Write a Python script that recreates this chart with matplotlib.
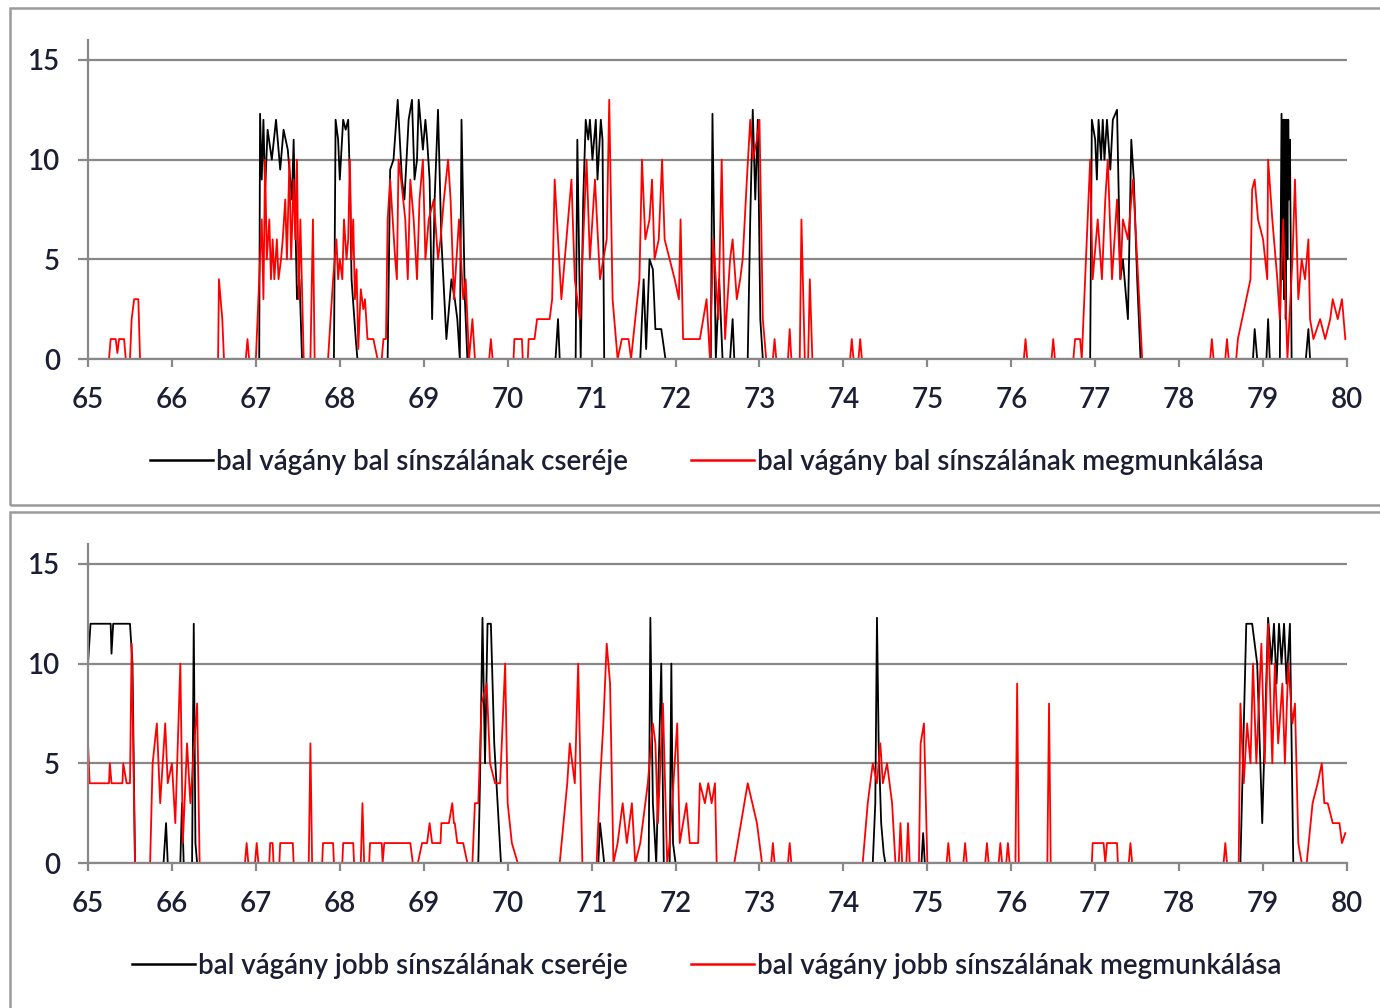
import matplotlib
matplotlib.use('Agg')
import matplotlib.pyplot as plt
from matplotlib.patches import Rectangle

plt.rcParams['font.family'] = ['Lato', 'DejaVu Sans']

# km szelvény (x) and value (y)
top_black = [
    (65.0, 0), (67.04, 0), (67.05, 12.3), (67.07, 9), (67.09, 12), (67.11, 8.5),
    (67.14, 11.5), (67.19, 10), (67.24, 12), (67.29, 9.5), (67.33, 11.5),
    (67.38, 10.5), (67.43, 8), (67.45, 11), (67.49, 3), (67.52, 4), (67.55, 0),
    (67.93, 0), (67.95, 12), (67.98, 11), (68.0, 9), (68.04, 12), (68.07, 11.5),
    (68.1, 12), (68.12, 9), (68.14, 4), (68.19, 1), (68.21, 0), (68.57, 0),
    (68.6, 9.5), (68.64, 10), (68.69, 13), (68.74, 9), (68.77, 8), (68.82, 12),
    (68.86, 13), (68.89, 9), (68.92, 10), (68.94, 13), (68.99, 10.5), (69.02, 12),
    (69.04, 11), (69.07, 9), (69.1, 2), (69.13, 8), (69.17, 12.5), (69.21, 6),
    (69.27, 1), (69.31, 3), (69.33, 4), (69.37, 3), (69.4, 2), (69.43, 0),
    (69.45, 12), (69.49, 3), (69.52, 0), (70.57, 0), (70.6, 2), (70.62, 0),
    (70.81, 0), (70.83, 11), (70.87, 0), (70.9, 8), (70.93, 12), (70.96, 11),
    (70.98, 12), (71.01, 10), (71.05, 12), (71.07, 9), (71.11, 12), (71.13, 11),
    (71.15, 0), (71.58, 0), (71.62, 4), (71.65, 0.5), (71.69, 5), (71.73, 4.5),
    (71.76, 1.5), (71.83, 1.5), (71.88, 0), (72.42, 0), (72.44, 12.3),
    (72.48, 0), (72.52, 4), (72.56, 0), (72.65, 0), (72.68, 2), (72.7, 0),
    (72.86, 0), (72.89, 7), (72.92, 12.5), (72.95, 8), (72.98, 12), (73.01, 2),
    (73.04, 0), (76.94, 0), (76.96, 12), (77.0, 11), (77.02, 9), (77.04, 12),
    (77.07, 10), (77.09, 12), (77.11, 10), (77.14, 12), (77.18, 9.5), (77.21, 12),
    (77.26, 12.5), (77.3, 4), (77.33, 5), (77.37, 3), (77.39, 2), (77.43, 11),
    (77.46, 9), (77.5, 4), (77.54, 0), (78.88, 0), (78.9, 1.5), (78.93, 0),
    (79.04, 0), (79.06, 2), (79.08, 0), (79.2, 0), (79.22, 12.3), (79.23, 4),
    (79.24, 12), (79.25, 3), (79.26, 12), (79.27, 2), (79.28, 12), (79.29, 5),
    (79.3, 12), (79.31, 8), (79.32, 11), (79.34, 0), (79.51, 0), (79.54, 1.5),
    (79.56, 0), (80.0, 0),
]

top_red = [
    (65.0, 0), (65.25, 0), (65.27, 1), (65.33, 1), (65.35, 0.3), (65.37, 1),
    (65.43, 1), (65.45, 0), (65.5, 0), (65.52, 2), (65.55, 3), (65.6, 3),
    (65.62, 0), (66.55, 0), (66.56, 4), (66.58, 3), (66.6, 2), (66.62, 0),
    (66.88, 0), (66.9, 1), (66.92, 0), (67.0, 0), (67.05, 5), (67.07, 7),
    (67.09, 3), (67.11, 10), (67.13, 5), (67.16, 7), (67.18, 4), (67.2, 6),
    (67.22, 4), (67.25, 6), (67.27, 4), (67.3, 5), (67.32, 6), (67.35, 8),
    (67.37, 5), (67.4, 10), (67.42, 5), (67.45, 9), (67.47, 6), (67.49, 10),
    (67.51, 3), (67.53, 7), (67.57, 0), (67.65, 0), (67.68, 7), (67.7, 0),
    (67.86, 0), (67.92, 4), (67.96, 6), (67.98, 4), (68.0, 5), (68.03, 4),
    (68.05, 7), (68.08, 5), (68.1, 6), (68.12, 10), (68.14, 5), (68.16, 7),
    (68.18, 3), (68.2, 4.5), (68.22, 0.5), (68.25, 3.5), (68.28, 2.5),
    (68.3, 3), (68.33, 1), (68.4, 1), (68.45, 0), (68.5, 0), (68.52, 1),
    (68.55, 1), (68.57, 7), (68.6, 9), (68.66, 5), (68.68, 4), (68.7, 10),
    (68.73, 9), (68.78, 7), (68.81, 4), (68.84, 9), (68.88, 7), (68.92, 4),
    (68.95, 8), (68.99, 10), (69.02, 5), (69.06, 7), (69.12, 8), (69.17, 5),
    (69.2, 6), (69.24, 8), (69.29, 10), (69.32, 8), (69.36, 3), (69.42, 7),
    (69.47, 3), (69.5, 4), (69.54, 0), (69.58, 2), (69.61, 0), (69.78, 0),
    (69.8, 1), (69.82, 0), (70.07, 0), (70.08, 1), (70.17, 1), (70.18, 0),
    (70.24, 0), (70.25, 1), (70.32, 1), (70.35, 2), (70.5, 2), (70.53, 3),
    (70.56, 9), (70.6, 6), (70.64, 3), (70.68, 5), (70.76, 9), (70.8, 4),
    (70.86, 2), (70.9, 6), (70.94, 10), (70.98, 5), (71.04, 9), (71.1, 4),
    (71.18, 6), (71.21, 13), (71.25, 3), (71.31, 0), (71.36, 1), (71.44, 1),
    (71.47, 0), (71.52, 2), (71.57, 4), (71.6, 10), (71.64, 6), (71.69, 7),
    (71.72, 9), (71.75, 5), (71.8, 6), (71.84, 10), (71.87, 6), (71.93, 5),
    (71.99, 4), (72.04, 3), (72.06, 7), (72.09, 1), (72.29, 1), (72.37, 3),
    (72.41, 0), (72.45, 6), (72.51, 2), (72.55, 10), (72.59, 1), (72.65, 5),
    (72.68, 6), (72.73, 3), (72.77, 4), (72.8, 5), (72.85, 9), (72.89, 12),
    (72.92, 10), (72.97, 11), (73.0, 12), (73.04, 2), (73.08, 0), (73.16, 0),
    (73.18, 1), (73.2, 0), (73.34, 0), (73.36, 1.5), (73.38, 0), (73.48, 0),
    (73.5, 7), (73.54, 0), (73.58, 0), (73.6, 4), (73.63, 0), (74.08, 0),
    (74.1, 1), (74.12, 0), (74.18, 0), (74.2, 1), (74.22, 0), (76.15, 0),
    (76.17, 1), (76.19, 0), (76.48, 0), (76.5, 1), (76.52, 0), (76.74, 0),
    (76.76, 1), (76.82, 1), (76.84, 0), (76.88, 4), (76.94, 10), (76.97, 4),
    (77.03, 7), (77.08, 4), (77.12, 8), (77.15, 10), (77.2, 4), (77.26, 8),
    (77.3, 4), (77.33, 7), (77.39, 6), (77.45, 9), (77.5, 5), (77.56, 0),
    (78.37, 0), (78.39, 1), (78.41, 0), (78.55, 0), (78.57, 1), (78.59, 0),
    (78.68, 0), (78.7, 1), (78.75, 2), (78.85, 4), (78.87, 8.5), (78.9, 9),
    (78.94, 7), (79.0, 6), (79.05, 4), (79.06, 10), (79.11, 7), (79.17, 4),
    (79.2, 2), (79.24, 7), (79.29, 0), (79.35, 5), (79.38, 9), (79.42, 3),
    (79.46, 5), (79.5, 4), (79.54, 6), (79.56, 2), (79.6, 1), (79.68, 2),
    (79.74, 1), (79.8, 2), (79.83, 3), (79.89, 2), (79.94, 3), (79.98, 1),
]

bottom_black = [
    (65.0, 10), (65.03, 12), (65.27, 12), (65.28, 10.5), (65.3, 12), (65.5, 12),
    (65.53, 10), (65.56, 0), (65.9, 0), (65.93, 2), (65.95, 0), (66.1, 0),
    (66.12, 3), (66.14, 0), (66.24, 0), (66.26, 12), (66.28, 1), (66.3, 0),
    (69.65, 0), (69.67, 4), (69.7, 12.3), (69.73, 5), (69.76, 12), (69.8, 12),
    (69.84, 6), (69.88, 3), (69.92, 0), (71.08, 0), (71.1, 2), (71.15, 0),
    (71.68, 0), (71.7, 12.3), (71.73, 3), (71.77, 0), (71.8, 5), (71.83, 10),
    (71.86, 0), (71.93, 0), (71.95, 10), (71.97, 1), (72.0, 0), (74.35, 0),
    (74.38, 3), (74.4, 12.3), (74.42, 6), (74.45, 2), (74.48, 0.5), (74.5, 0),
    (74.93, 0), (74.95, 1.5), (74.97, 0), (78.73, 0), (78.8, 12), (78.87, 12),
    (78.93, 10), (78.99, 2), (79.06, 12.3), (79.1, 10), (79.13, 12), (79.16, 9),
    (79.19, 12), (79.22, 10), (79.25, 12), (79.28, 9), (79.32, 12), (79.36, 0),
    (80.0, 0),
]

bottom_red = [
    (65.0, 6), (65.02, 4), (65.25, 4), (65.26, 5), (65.28, 4), (65.41, 4),
    (65.42, 5), (65.46, 4), (65.5, 4), (65.52, 11), (65.56, 0), (65.74, 0),
    (65.77, 5), (65.82, 7), (65.86, 3), (65.92, 7), (65.95, 4), (66.0, 5),
    (66.04, 2), (66.1, 10), (66.13, 1), (66.18, 6), (66.22, 3), (66.25, 5),
    (66.3, 8), (66.33, 0), (66.87, 0), (66.89, 1), (66.91, 0), (66.99, 0),
    (67.01, 1), (67.03, 0), (67.16, 0), (67.17, 1), (67.2, 1), (67.21, 0),
    (67.28, 0), (67.29, 1), (67.44, 1), (67.45, 0), (67.63, 0), (67.65, 6),
    (67.67, 0), (67.79, 0), (67.8, 1), (67.92, 1), (67.93, 0), (68.03, 0),
    (68.04, 1), (68.16, 1), (68.17, 0), (68.25, 0), (68.27, 3), (68.29, 0),
    (68.35, 0), (68.36, 1), (68.5, 1), (68.51, 0), (68.53, 1), (68.63, 1),
    (68.67, 1), (68.84, 1), (68.87, 0), (68.93, 0), (68.98, 1), (69.04, 1),
    (69.07, 2), (69.1, 1), (69.2, 1), (69.21, 2), (69.3, 2), (69.34, 3),
    (69.36, 2), (69.37, 2), (69.4, 1), (69.47, 1), (69.52, 0), (69.58, 0),
    (69.61, 3), (69.65, 3), (69.69, 8), (69.75, 9), (69.79, 5), (69.85, 4),
    (69.91, 4), (69.97, 10), (70.0, 3), (70.05, 1), (70.12, 0), (70.62, 0),
    (70.71, 4), (70.74, 6), (70.8, 4), (70.84, 10), (70.89, 0), (71.06, 0),
    (71.1, 4), (71.14, 7), (71.18, 11), (71.22, 9), (71.26, 0), (71.31, 1),
    (71.37, 3), (71.42, 1), (71.48, 3), (71.52, 0), (71.58, 1), (71.67, 4),
    (71.73, 7), (71.76, 6), (71.79, 2), (71.85, 8), (71.9, 0), (71.93, 1),
    (72.02, 7), (72.05, 1), (72.13, 3), (72.17, 1), (72.27, 1), (72.29, 4),
    (72.35, 3), (72.39, 4), (72.43, 3), (72.47, 4), (72.49, 0), (72.7, 0),
    (72.74, 1), (72.86, 4), (72.97, 2), (73.03, 0), (73.14, 0), (73.16, 1),
    (73.18, 0), (73.34, 0), (73.36, 1), (73.38, 0), (74.23, 0), (74.29, 3),
    (74.35, 5), (74.4, 4), (74.44, 6), (74.47, 4), (74.52, 5), (74.58, 3),
    (74.62, 0), (74.66, 0), (74.68, 2), (74.7, 0), (74.75, 0), (74.77, 2),
    (74.79, 0), (74.9, 0), (74.92, 6), (74.96, 7), (75.0, 0), (75.23, 0),
    (75.25, 1), (75.27, 0), (75.43, 0), (75.45, 1), (75.47, 0), (75.69, 0),
    (75.71, 1), (75.73, 0), (75.85, 0), (75.87, 1), (75.89, 0), (75.94, 0),
    (75.96, 1), (75.98, 0), (76.05, 0), (76.07, 9), (76.09, 0), (76.43, 0),
    (76.45, 8), (76.47, 0), (76.96, 0), (76.97, 1), (77.1, 1), (77.12, 0),
    (77.14, 1), (77.26, 1), (77.27, 0), (77.4, 0), (77.42, 1), (77.44, 0),
    (78.53, 0), (78.55, 1), (78.57, 0), (78.71, 0), (78.73, 8), (78.77, 4),
    (78.81, 7), (78.85, 5), (78.88, 10), (78.92, 5), (78.98, 11), (79.02, 5),
    (79.06, 12), (79.11, 5), (79.14, 10), (79.18, 6), (79.23, 9), (79.26, 5),
    (79.3, 10), (79.35, 7), (79.38, 8), (79.42, 1), (79.46, 0), (79.52, 0),
    (79.59, 3), (79.65, 4), (79.7, 5), (79.73, 3), (79.77, 3), (79.83, 2),
    (79.91, 2), (79.94, 1), (79.98, 1.5),
]

labels_top = ['bal vágány bal sínszálának cseréje',
              'bal vágány bal sínszálának megmunkálása']
labels_bottom = ['bal vágány jobb sínszálának cseréje',
                 'bal vágány jobb sínszálának megmunkálása']

text_color = '#1c1f33'
grid_color = '#888888'
W, H = 1380, 1008
FS = 20

fig = plt.figure(figsize=(W / 100, H / 100), dpi=100)

# chart area frames
for y0, y1 in [(8, 505), (512, 1012)]:
    fig.patches.append(Rectangle((10 / W, 1 - y1 / H), 1.2, (y1 - y0) / H,
                                 transform=fig.transFigure, fill=False,
                                 edgecolor='#9a9a9a', linewidth=1.8))


def panel(y_top, y_zero, black, red, labels, leg_y):
    ax = fig.add_axes([88 / W, 1 - y_zero / H, (1347 - 88) / W,
                       (y_zero - y_top) / H])
    bx, by = zip(*black)
    rx, ry = zip(*red)
    ax.plot(bx, by, color='black', lw=1.3, label=labels[0])
    ax.plot(rx, ry, color='#ff0000', lw=1.3, label=labels[1])
    ax.set_xlim(65, 80)
    ax.set_ylim(0, 16)
    ax.set_xticks(range(65, 81))
    ax.set_yticks([0, 5, 10, 15])
    ax.yaxis.grid(True, color=grid_color, lw=1.6)
    ax.set_axisbelow(True)
    for s in ['top', 'right']:
        ax.spines[s].set_visible(False)
    for s in ['left', 'bottom']:
        ax.spines[s].set_color(grid_color)
        ax.spines[s].set_linewidth(1.6)
    ax.tick_params(axis='y', length=7, width=1.6, color=grid_color,
                   labelsize=FS, labelcolor=text_color, pad=13)
    ax.tick_params(axis='x', length=6, width=1.6, color=grid_color,
                   labelsize=FS, labelcolor=text_color, pad=14)
    for t in ax.get_xticklabels() + ax.get_yticklabels():
        t.set_fontweight('semibold')
    leg = fig.legend(loc='center', bbox_to_anchor=(0.512, 1 - leg_y / H),
                     ncol=2, frameon=False, fontsize=FS, handlelength=2.27,
                     handletextpad=0.1, columnspacing=2.27,
                     labelcolor=text_color, handles=ax.get_lines(),
                     prop={'size': FS, 'weight': 'semibold'})
    for ln in leg.get_lines():
        ln.set_linewidth(1.8)
    return ax


panel(40, 359, top_black, top_red, labels_top, 462)
panel(544, 863, bottom_black, bottom_red, labels_bottom, 966)

fig.savefig('out.png', dpi=100)
